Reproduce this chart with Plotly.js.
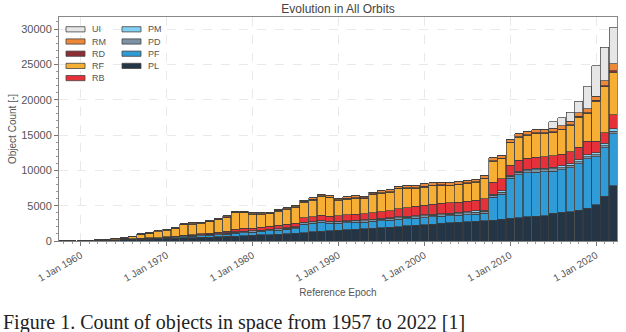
<!DOCTYPE html>
<html>
<head>
<meta charset="utf-8">
<script src="https://cdn.plot.ly/plotly-3.0.1.min.js"></script>
<style>
  html, body { margin: 0; padding: 0; background: #fff; }
  #chart { width: 626px; height: 332px; }
</style>
</head>
<body>
<div id="chart"></div>
<script>
var years = ['1958','1959','1960','1961','1962','1963','1964','1965','1966','1967',
  '1968','1969','1970','1971','1972','1973','1974','1975','1976','1977',
  '1978','1979','1980','1981','1982','1983','1984','1985','1986','1987',
  '1988','1989','1990','1991','1992','1993','1994','1995','1996','1997',
  '1998','1999','2000','2001','2002','2003','2004','2005','2006','2007',
  '2008','2009','2010','2011','2012','2013','2014','2015','2016','2017',
  '2018','2019','2020','2021','2022'];

// object counts per class
var PL = [4,8,15,30,55,80,120,150,190,240, 280,320,360,400,430,460,500,540,590,640,
  700,760,820,870,920,980,1040,1100,1200,1280, 1360,1450,1550,1620,1690,1760,1830,1900,1970,2050,
  2130,2220,2320,2400,2480,2560,2640,2720,2800,2870, 2970,3050,3200,3300,3400,3500,3600,3900,4050,4150,
  4350,4650,5100,6300,7800];
var PF = [0,0,0,0,5,5,10,10,15,20, 30,40,60,80,170,200,230,260,300,340,
  400,430,450,480,520,560,600,660,1200,1250, 1300,1050,950,950,960,920,950,970,990,1020,
  1020,1000,1000,1000,1000,980,980,990,1000,1050, 3200,3550,5650,6100,6250,6250,6200,6000,6050,6250,
  6550,7000,6800,6900,7400];
var PD = [2,4,8,15,25,35,50,60,70,80, 90,95,100,105,110,115,120,125,130,135,
  140,145,150,150,155,160,165,170,180,185, 190,195,200,205,210,215,220,225,230,235,
  240,245,250,255,260,265,270,275,280,285, 290,295,300,300,300,300,300,300,300,300,
  300,300,300,300,350];
var PM = [0,0,0,0,0,0,0,0,5,5, 5,5,10,10,15,15,20,20,25,30,
  35,40,40,45,45,50,55,60,70,75, 80,85,90,95,100,105,110,115,120,125,
  130,135,140,145,150,155,160,165,170,175, 180,185,190,200,210,220,230,240,250,260,
  270,280,300,300,350];
var RB = [0,0,0,0,0,5,10,10,15,20, 25,30,40,50,90,110,130,160,200,250,
  380,400,380,400,420,450,480,520,620,650, 700,700,800,820,840,860,900,950,1000,1100,
  1200,1300,1350,1400,1420,1430,1450,1480,1500,1600, 1700,1750,1400,1500,1550,1550,1600,1600,1650,1700,
  1800,1900,1600,1500,2000];
var RF = [2,4,8,25,40,60,110,150,300,520, 620,790,960,1100,1460,1470,1500,1590,1760,1930,
  2320,2195,1930,1820,1800,2040,2130,2270,2240,2350, 2700,2640,2160,2240,2250,2130,2550,2580,2560,2850,
  2750,2560,2580,2610,2540,2400,2430,2480,2530,2820, 2950,2800,3130,3260,3240,3370,3300,3310,3440,3700,
  4270,3950,5700,6500,6000];
var RD = [1,2,4,10,15,25,35,40,45,50, 55,60,65,70,75,80,80,85,90,90,
  95,95,95,95,95,100,100,100,100,100, 100,100,100,100,100,100,100,100,100,100,
  100,100,100,100,100,100,100,100,100,100, 100,100,100,100,100,100,100,100,100,100,
  100,100,150,200,200];
var RM = [1,2,5,10,20,30,45,50,60,65, 75,80,85,85,100,100,100,100,115,125,
  130,135,135,140,145,150,160,170,190,205, 215,225,230,240,250,260,270,280,290,300,
  310,320,330,340,350,360,370,380,390,400, 410,420,430,440,450,460,470,480,490,500,
  510,520,550,700,1000];
var UI = [0,0,0,0,0,0,0,0,0,0, 0,0,0,0,0,0,0,0,0,0,
  0,0,0,0,0,0,0,0,0,0, 0,0,0,0,0,0,0,0,0,0,
  0,0,0,0,0,0,0,0,0,0, 0,0,0,0,0,0,0,970,1120,1290,
  1650,3100,4300,4700,5100];

// stacking order, bottom to top
var names = ['PL', 'PF', 'PD', 'PM', 'RB', 'RF', 'RD', 'RM', 'UI'];
var values = [PL, PF, PD, PM, RB, RF, RD, RM, UI];
var colors = ['#243646', '#2f9bd7', '#7d93a5', '#82d0f3', '#e5323a', '#f6ae35', '#8d2e35', '#ee8839', '#e6e6e6'];

// legend layout: two columns as in the figure
var legendCols = [['UI', 'RM', 'RD', 'RF', 'RB'], ['PM', 'PD', 'PF', 'PL']];

var dates = years.map(function (y) { return y + '-01-01'; });

var data = names.map(function (n, i) {
  return {
    type: 'bar',
    name: n,
    x: dates,
    y: values[i],
    marker: { color: colors[i], line: { color: '#3c3c3c', width: 0.7 } },
    hoverinfo: 'x+y+name'
  };
});

// plot area in pixels, to place the hand-made legend
var L = 59, R = 617, T = 17, B = 241;
function px(x) { return (x - L) / (R - L); }
function py(y) { return (B - y) / (B - T); }

var shapes = [], annotations = [];
legendCols.forEach(function (col, c) {
  var sx = c === 0 ? 66 : 122;
  col.forEach(function (n, r) {
    var yc = 29.3 + r * 12.2;
    var k = names.indexOf(n);
    shapes.push({
      type: 'rect', xref: 'paper', yref: 'paper',
      x0: px(sx), x1: px(sx + 19), y0: py(yc + 2.6), y1: py(yc - 2.6),
      fillcolor: colors[k], line: { color: '#444', width: 0.8 }
    });
    annotations.push({
      xref: 'paper', yref: 'paper', x: px(sx + 24), y: py(yc),
      xanchor: 'left', yanchor: 'middle', showarrow: false, text: n,
      font: { family: 'Liberation Sans, Arial', size: 9, color: '#555' }
    });
  });
});

annotations.push({
  xref: 'paper', yref: 'paper',
  x: px(1), xanchor: 'left',
  y: py(309), yanchor: 'top',
  text: 'Figure 1. Count of objects in space from 1957 to 2022 [1]',
  showarrow: false,
  font: { family: 'Liberation Serif, serif', size: 20, color: '#222' }
});

var layout = {
  width: 626,
  height: 332,
  margin: { l: L, r: 626 - R, t: T, b: 332 - B },
  paper_bgcolor: '#fff',
  plot_bgcolor: '#fff',
  font: { family: 'Liberation Sans, Arial', size: 10, color: '#555' },
  barmode: 'stack',
  bargap: 0.04,
  showlegend: false,
  title: {
    text: 'Evolution in All Orbits',
    x: 0.54, xanchor: 'center',
    y: 0.972, yanchor: 'middle',
    font: { family: 'Liberation Sans, Arial', size: 12, color: '#444' }
  },
  xaxis: {
    type: 'date',
    range: ['1957-06-20', '2022-06-12'],
    tickvals: ['1960-01-01','1970-01-01','1980-01-01','1990-01-01','2000-01-01','2010-01-01','2020-01-01'],
    tickformat: '%-d %b %Y',
    tickangle: -30,
    tickfont: { size: 10, color: '#555' },
    ticks: 'outside', ticklen: 4, tickcolor: '#777',
    minor: { dtick: 'M12', ticks: 'outside', ticklen: 2, tickcolor: '#999', showgrid: false },
    showgrid: true, gridcolor: '#e3e3e3', griddash: 'dash', gridwidth: 0.8,
    showline: true, linecolor: '#888', linewidth: 1, mirror: true,
    zeroline: false,
    title: { text: 'Reference Epoch', font: { size: 10, color: '#555' }, standoff: 6 }
  },
  yaxis: {
    range: [0, 31700],
    tickvals: [0, 5000, 10000, 15000, 20000, 25000, 30000],
    tickformat: 'd',
    tickfont: { size: 11, color: '#555' },
    ticks: 'outside', ticklen: 4, tickcolor: '#777',
    minor: { dtick: 1000, ticks: 'outside', ticklen: 2, tickcolor: '#999', showgrid: false },
    showgrid: true, gridcolor: '#e3e3e3', griddash: 'dash', gridwidth: 0.8,
    showline: true, linecolor: '#888', linewidth: 1, mirror: true,
    zeroline: false,
    title: { text: 'Object Count [-]', font: { size: 10, color: '#555' }, standoff: 2 }
  },
  shapes: shapes,
  annotations: annotations
};

Plotly.newPlot('chart', data, layout, { displayModeBar: false, staticPlot: true });
</script>
</body>
</html>
